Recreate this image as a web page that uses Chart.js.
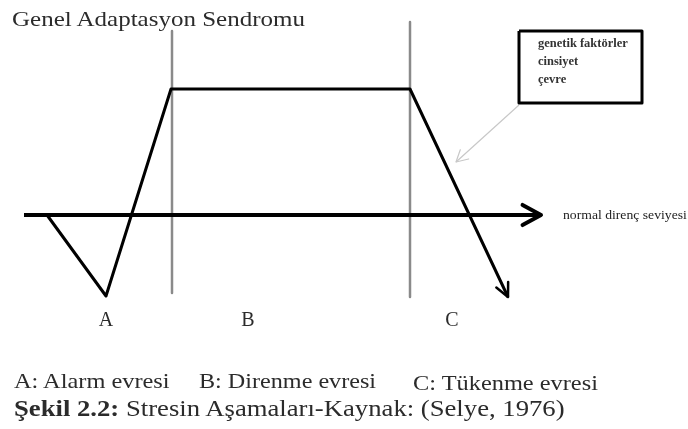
<!DOCTYPE html>
<html>
<head>
<meta charset="utf-8">
<script src="https://cdn.jsdelivr.net/npm/chart.js@4/dist/chart.umd.min.js"></script>
<style>
body { margin: 0; background: #fff; width: 688px; height: 429px; overflow: hidden; position: relative; font-family: "Liberation Serif", "DejaVu Serif", serif; color: #2b2b2b; }
#gas { position: absolute; left: 0; top: 0; }
.t { position: absolute; white-space: nowrap; line-height: 1; transform-origin: 0 0; }
</style>
</head>
<body>
<canvas id="gas" width="688" height="429"></canvas>
<div class="t" id="title" style="left:12px;top:9px;font-size:21px;transform:scaleX(1.19)"></div>
<div class="t" id="descA" style="left:14px;top:371px;font-size:21px;transform:scaleX(1.16)"></div>
<div class="t" id="descB" style="left:199px;top:371px;font-size:21px;transform:scaleX(1.15)"></div>
<div class="t" id="descC" style="left:413px;top:373px;font-size:21px;transform:scaleX(1.16)"></div>
<div class="t" id="caption" style="left:14px;top:397px;font-size:23px;transform:scaleX(1.16)"></div>

<script>
// diagram values (time on x, resistance level on y, normal level = 0)
const titleText = 'Genel Adaptasyon Sendromu';
const axisTime = [24, 541];
const axisLevel = [0, 0];
const axisLabel = 'normal direnç seviyesi';

const curveTime = [47, 106, 171, 410, 508];
const curveLevel = [0, -81, 126, 126, -82];

const phaseBounds = [172, 410];
const boundTop = [184, 193];
const boundBottom = [-78, -82];

const phaseNames = ['A', 'B', 'C'];
const phaseTime = [106, 248, 452];
const phaseDesc = ['A: Alarm evresi', 'B: Direnme evresi', 'C: Tükenme evresi'];

const factors = ['genetik faktörler', 'cinsiyet', 'çevre'];
const boxTime = [519, 642];
const boxLevel = [112, 184];
const pointerTime = [519, 456];
const pointerLevel = [110, 53];

const captionBold = 'Şekil 2.2:';
const captionText = ' Stresin Aşamaları-Kaynak: (Selye, 1976)';

document.getElementById('title').innerText = titleText;
document.getElementById('descA').innerText = phaseDesc[0];
document.getElementById('descB').innerText = phaseDesc[1];
document.getElementById('descC').innerText = phaseDesc[2];
document.getElementById('caption').innerHTML = '<b>' + captionBold + '</b>' + captionText;

function pts(xs, ys) {
    return xs.map((x, i) => ({ x: x, y: ys[i] }));
}

let datasets = [];
datasets.push({ data: pts(axisTime, axisLevel), borderColor: '#000', borderWidth: 4, arrow: { len: 21, ang: 0.5, width: 4 } });
datasets.push({ data: pts(curveTime, curveLevel), borderColor: '#000', borderWidth: 3, arrow: { len: 15, ang: 0.45, width: 2.5 } });
phaseBounds.forEach((x, i) => {
    datasets.push({ data: [{ x: x, y: boundTop[i] }, { x: x, y: boundBottom[i] }], borderColor: '#8a8a8a', borderWidth: 2.5 });
});
datasets.push({
    data: pts([boxTime[0], boxTime[1], boxTime[1], boxTime[0], boxTime[0]], [boxLevel[1], boxLevel[1], boxLevel[0], boxLevel[0], boxLevel[1]]),
    borderColor: '#000', borderWidth: 3
});
datasets.push({ data: pts(pointerTime, pointerLevel), borderColor: '#c8c8c8', borderWidth: 1.2, arrow: { len: 13, ang: 0.5, width: 1.2 } });

function stretchText(ctx, text, x, y, k) {
    ctx.save();
    ctx.translate(x, y);
    ctx.scale(k, 1);
    ctx.fillText(text, 0, 0);
    ctx.restore();
}

const arrowPlugin = {
    id: 'arrows',
    afterDatasetsDraw(chart) {
        let ctx = chart.ctx;
        chart.data.datasets.forEach((ds, i) => {
            if (!ds.arrow) return;
            let els = chart.getDatasetMeta(i).data;
            let a = els[els.length - 2], b = els[els.length - 1];
            let th = Math.atan2(b.y - a.y, b.x - a.x);
            ctx.save();
            ctx.strokeStyle = ds.borderColor;
            ctx.lineWidth = ds.arrow.width;
            ctx.lineCap = 'round';
            ctx.lineJoin = 'round';
            ctx.beginPath();
            ctx.moveTo(b.x - ds.arrow.len * Math.cos(th - ds.arrow.ang), b.y - ds.arrow.len * Math.sin(th - ds.arrow.ang));
            ctx.lineTo(b.x, b.y);
            ctx.lineTo(b.x - ds.arrow.len * Math.cos(th + ds.arrow.ang), b.y - ds.arrow.len * Math.sin(th + ds.arrow.ang));
            ctx.stroke();
            ctx.restore();
        });

        let xs = chart.scales.x, ys = chart.scales.y;
        ctx.save();
        ctx.fillStyle = '#2b2b2b';
        ctx.textAlign = 'center';
        ctx.textBaseline = 'middle';
        ctx.font = '20px "Liberation Serif"';
        phaseNames.forEach((n, i) => {
            ctx.fillText(n, xs.getPixelForValue(phaseTime[i]), ys.getPixelForValue(-106));
        });

        ctx.textAlign = 'left';
        ctx.textBaseline = 'alphabetic';
        ctx.fillStyle = '#222';
        ctx.font = '12px "Liberation Serif"';
        stretchText(ctx, axisLabel, xs.getPixelForValue(axisTime[1]) + 22, ys.getPixelForValue(0) + 4, 1.14);

        ctx.font = 'bold 12px "Liberation Serif"';
        ctx.fillStyle = '#333';
        factors.forEach((f, i) => {
            stretchText(ctx, f, xs.getPixelForValue(boxTime[0]) + 19, ys.getPixelForValue(boxLevel[1]) + 16 + i * 18, 1.04);
        });
        ctx.restore();
    }
};

new Chart(document.getElementById('gas').getContext('2d'), {
    type: 'scatter',
    data: { datasets: datasets },
    options: {
        responsive: false,
        animation: false,
        showLine: true,
        layout: { padding: 0 },
        elements: { point: { radius: 0, hoverRadius: 0 }, line: { tension: 0, borderJoinStyle: 'round', borderCapStyle: 'butt' } },
        scales: {
            x: { type: 'linear', display: false, min: 0, max: 688 },
            y: { type: 'linear', display: false, min: -214, max: 215 }
        },
        plugins: { legend: { display: false }, tooltip: { enabled: false } }
    },
    plugins: [arrowPlugin]
});
</script>
</body>
</html>
